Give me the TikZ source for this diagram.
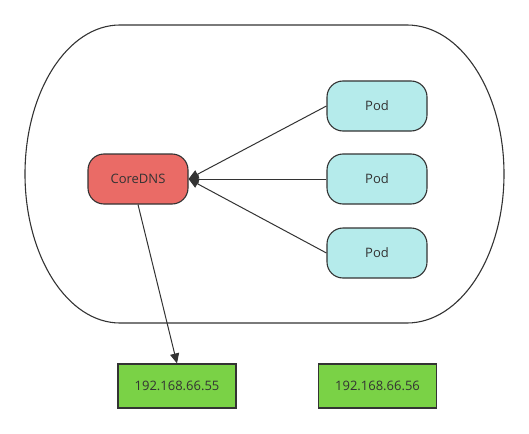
\documentclass[tikz,border=0pt]{standalone}
\usepackage{fontspec}
\setmainfont{Open Sans}
\usetikzlibrary{arrows.meta}
\definecolor{linegray}{HTML}{333333}
\definecolor{dnsred}{HTML}{EA6B66}
\definecolor{podcyan}{HTML}{B5EBEB}
\definecolor{ipgreen}{HTML}{7AD246}
\tikzset{
  box/.style={draw=linegray, line width=1.1pt, text=linegray, font=\fontsize{13}{15}\selectfont},
  dnsbox/.style={box, fill=dnsred, rounded corners=16pt, minimum width=100pt, minimum height=50pt},
  podbox/.style={box, fill=podcyan, rounded corners=16pt, minimum width=100pt, minimum height=50pt},
  ipbox/.style={box, fill=ipgreen, minimum width=118pt, minimum height=44pt},
  link/.style={draw=linegray, line width=1pt, -{Triangle[length=10pt,width=9pt]}}
}
\begin{document}
\begin{tikzpicture}[x=1pt,y=-1pt]
\useasboundingbox (0,0) rectangle (529,433);
% 外框
\draw[linegray, line width=1.1pt] (120,25) -- (407,25)
  arc[start angle=-90, end angle=0, x radius=97, y radius=149]
  arc[start angle=0, end angle=90, x radius=97, y radius=149]
  -- (120,323)
  arc[start angle=90, end angle=180, x radius=95, y radius=149]
  arc[start angle=180, end angle=270, x radius=95, y radius=149];
% 节点
\node[dnsbox] (coredns) at (138,179) {CoreDNS};
\node[podbox] (pod1) at (377,106) {Pod};
\node[podbox] (pod2) at (377,179) {Pod};
\node[podbox] (pod3) at (377,253) {Pod};
\node[ipbox] (ip1) at (177,386) {192.168.66.55};
\node[ipbox] (ip2) at (377.5,386) {192.168.66.56};
% 连线
\draw[link] (pod1.west) -- (coredns.east);
\draw[link] (pod2.west) -- (coredns.east);
\draw[link] (pod3.west) -- (coredns.east);
\draw[link] (coredns.south) -- (ip1.north);
\end{tikzpicture}
\end{document}
